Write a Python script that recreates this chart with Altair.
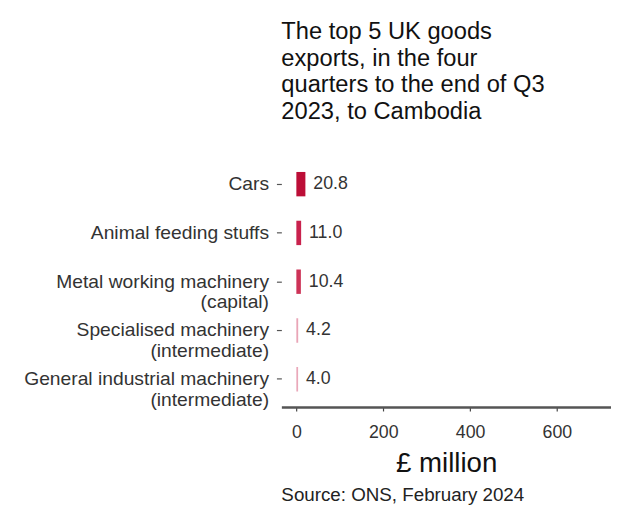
import altair as alt
import pandas as pd

categories = [
    "Cars",
    "Animal feeding stuffs",
    "Metal working machinery\n(capital)",
    "Specialised machinery\n(intermediate)",
    "General industrial machinery\n(intermediate)",
]
values = [20.8, 11.0, 10.4, 4.2, 4.0]
labels = ["20.8", "11.0", "10.4", "4.2", "4.0"]
x_ticks = [0, 200, 400, 600]

title_lines = [
    "The top 5 UK goods",
    "exports, in the four",
    "quarters to the end of Q3",
    "2023, to Cambodia",
]
source_text = "Source: ONS, February 2024"

df = pd.DataFrame({"category": categories, "value": values, "label": labels})

FONT = "Liberation Sans"
W, H = 334, 254

xscale = alt.Scale(domain=[-34.5, 724.5], nice=False, zero=False)
yscale = alt.Scale(domain=categories, paddingInner=0.5, paddingOuter=0.32)

base = alt.Chart(df)

bars = base.mark_bar().encode(
    y=alt.Y("category:N", sort=categories, scale=yscale,
            axis=alt.Axis(title=None, domain=False, ticks=True, tickSize=5,
                          tickColor="#555", tickWidth=1.2,
                          labelExpr="split(datum.label, '\\n')",
                          labelFont=FONT, labelFontSize=19.5, labelColor="#333",
                          labelPadding=8, labelLineHeight=21, labelLimit=0)),
    x=alt.X("value:Q", scale=xscale,
            axis=alt.Axis(title="£ million", values=x_ticks, grid=False,
                          domainColor="#555", domainWidth=2.5,
                          tickColor="#444", tickSize=4, tickWidth=1.2,
                          labelFont=FONT, labelFontSize=18, labelColor="#333",
                          labelPadding=13,
                          titleFont=FONT, titleFontSize=28, titleFontWeight="normal",
                          titleColor="#111", titlePadding=8)),
    x2=alt.datum(0),
    color=alt.Color("value:Q", legend=None,
                    scale=alt.Scale(domain=[4.0, 11.0, 20.8],
                                    range=["#eaa8ba", "#c9224d", "#bc0e37"])),
)

text = base.mark_text(align="left", baseline="middle", dx=8,
                      font=FONT, fontSize=18, color="#333").encode(
    y=alt.Y("category:N", sort=categories, scale=yscale),
    x=alt.X("value:Q", scale=xscale),
    text="label:N",
)

source = alt.Chart(pd.DataFrame({"t": [source_text]})).mark_text(
    align="left", baseline="middle", font=FONT, fontSize=19, color="#222"
).encode(x=alt.value(0), y=alt.value(H + 89), text="t:N")

chart = alt.layer(bars, text, source).properties(
    width=W, height=H,
    title=alt.TitleParams(text=title_lines, anchor="start", frame="group",
                          font=FONT, fontSize=24, fontWeight="normal",
                          color="#111", lineHeight=27, offset=33),
    autosize=alt.AutoSizeParams(type="none"),
    padding={"left": 277, "top": 147, "right": 0, "bottom": 100},
).configure(background="white").configure_view(stroke=None)

chart.save("out.html", embed_options={"renderer": "svg", "actions": False})
